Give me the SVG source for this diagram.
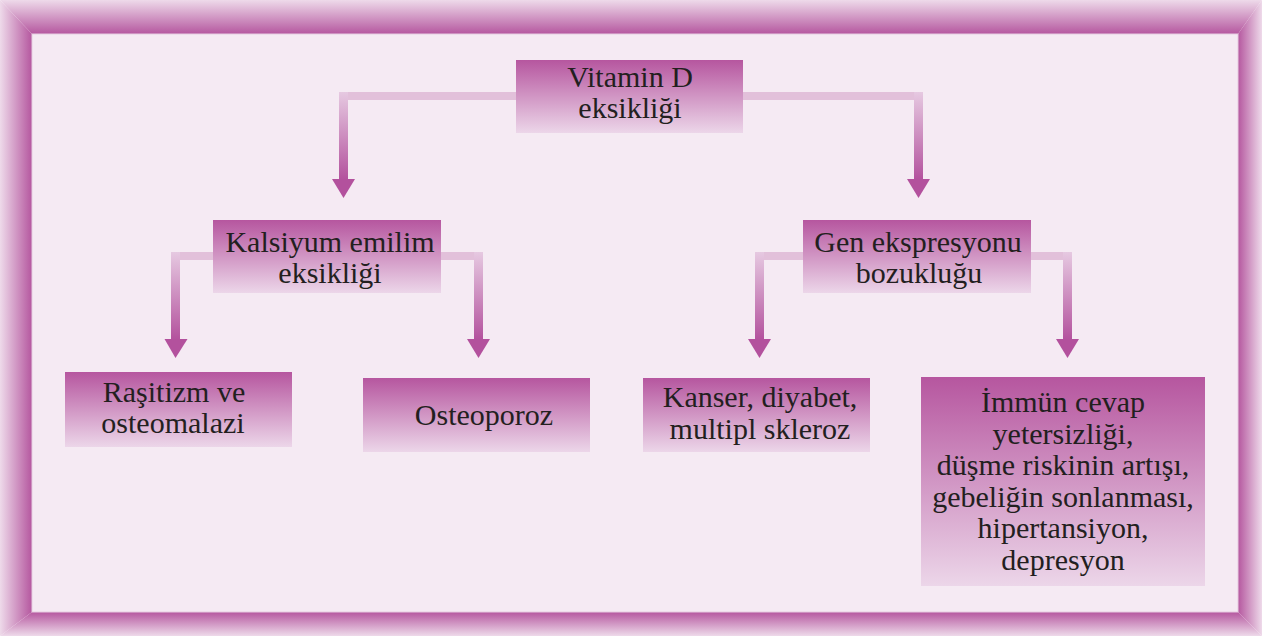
<svg xmlns="http://www.w3.org/2000/svg" width="1262" height="636" viewBox="0 0 1262 636">
  <defs>
    <linearGradient id="fTop" gradientUnits="userSpaceOnUse" x1="0" y1="0" x2="0" y2="34">
      <stop offset="0" stop-color="#eedaea"/><stop offset="1" stop-color="#b5579f"/>
    </linearGradient>
    <linearGradient id="fBot" gradientUnits="userSpaceOnUse" x1="0" y1="636" x2="0" y2="612">
      <stop offset="0" stop-color="#eedaea"/><stop offset="1" stop-color="#b5579f"/>
    </linearGradient>
    <linearGradient id="fLeft" gradientUnits="userSpaceOnUse" x1="0" y1="0" x2="32" y2="0">
      <stop offset="0" stop-color="#eedaea"/><stop offset="1" stop-color="#b5579f"/>
    </linearGradient>
    <linearGradient id="fRight" gradientUnits="userSpaceOnUse" x1="1262" y1="0" x2="1238" y2="0">
      <stop offset="0" stop-color="#eedaea"/><stop offset="1" stop-color="#b5579f"/>
    </linearGradient>
    <linearGradient id="boxG" x1="0" y1="0" x2="0" y2="1">
      <stop offset="0" stop-color="#b6569f"/><stop offset="1" stop-color="#ecd6e9"/>
    </linearGradient>
    <linearGradient id="vBar" x1="0" y1="0" x2="0" y2="1">
      <stop offset="0" stop-color="#e6c9e1"/><stop offset="1" stop-color="#b3519d"/>
    </linearGradient>
    <style>
      .box { fill: url(#boxG); }
      .hbar { fill: #e2c0da; }
      .vbar { fill: url(#vBar); }
      .head { fill: #b3519d; }
      .t { font-family: "Liberation Serif", "DejaVu Serif", serif; font-size: 30px; fill: #231f20; text-anchor: middle; }
    </style>
  </defs>

  <g id="frame">
    <polygon points="0,0 1262,0 1238,34 32,34" fill="url(#fTop)"/>
    <polygon points="0,636 1262,636 1238,612 32,612" fill="url(#fBot)"/>
    <polygon points="0,0 32,34 32,612 0,636" fill="url(#fLeft)"/>
    <polygon points="1262,0 1238,34 1238,612 1262,636" fill="url(#fRight)"/>
    <rect x="32" y="34" width="1206" height="578" fill="#f5eaf3" stroke="#e6cde1" stroke-width="1"/>
  </g>

  <g id="connectors">
    <rect class="hbar" x="339" y="92" width="177" height="8"/>
    <rect class="vbar" x="339" y="92" width="9" height="88"/>
    <polygon class="head" points="332,179 355,179 343.5,198"/>

    <rect class="hbar" x="743" y="92" width="180" height="8"/>
    <rect class="vbar" x="914" y="92" width="9" height="88"/>
    <polygon class="head" points="907,179 930,179 918.5,198"/>

    <rect class="hbar" x="171" y="252" width="42" height="8"/>
    <rect class="vbar" x="171" y="252" width="9" height="88"/>
    <polygon class="head" points="164.5,339 187.5,339 175.5,358"/>

    <rect class="hbar" x="441" y="252" width="42" height="8"/>
    <rect class="vbar" x="474" y="252" width="9" height="88"/>
    <polygon class="head" points="467,339 490,339 478.5,358"/>

    <rect class="hbar" x="755" y="252" width="48" height="8"/>
    <rect class="vbar" x="755" y="252" width="9" height="88"/>
    <polygon class="head" points="748,339 771,339 759.5,358"/>

    <rect class="hbar" x="1031" y="252" width="41" height="8"/>
    <rect class="vbar" x="1063" y="252" width="9" height="88"/>
    <polygon class="head" points="1056,339 1079,339 1067.5,358"/>
  </g>

  <g id="vitaminD">
    <rect class="box" x="516" y="60" width="227" height="73"/>
    <text class="t" x="630" y="87">Vitamin D</text>
    <text class="t" x="630" y="118">eksikliği</text>
  </g>

  <g id="kalsiyum">
    <rect class="box" x="213" y="220" width="228" height="73"/>
    <text class="t" x="330" y="252">Kalsiyum emilim</text>
    <text class="t" x="330" y="283">eksikliği</text>
  </g>

  <g id="gen">
    <rect class="box" x="803" y="220" width="228" height="73"/>
    <text class="t" x="918" y="252">Gen ekspresyonu</text>
    <text class="t" x="919" y="283">bozukluğu</text>
  </g>

  <g id="rasitizm">
    <rect class="box" x="65" y="372" width="227" height="75"/>
    <text class="t" x="174" y="402">Raşitizm ve</text>
    <text class="t" x="173" y="433">osteomalazi</text>
  </g>

  <g id="osteoporoz">
    <rect class="box" x="363" y="378" width="227" height="74"/>
    <text class="t" x="484" y="425">Osteoporoz</text>
  </g>

  <g id="kanser">
    <rect class="box" x="643" y="378" width="227" height="74"/>
    <text class="t" x="760" y="407">Kanser, diyabet,</text>
    <text class="t" x="760" y="439">multipl skleroz</text>
  </g>

  <g id="immun">
    <rect class="box" x="921" y="377" width="284" height="209"/>
    <text class="t" x="1063" y="412">İmmün cevap</text>
    <text class="t" x="1063" y="443.5">yetersizliği,</text>
    <text class="t" x="1063" y="475">düşme riskinin artışı,</text>
    <text class="t" x="1063" y="506.5">gebeliğin sonlanması,</text>
    <text class="t" x="1063" y="538">hipertansiyon,</text>
    <text class="t" x="1063" y="569.5">depresyon</text>
  </g>
</svg>
